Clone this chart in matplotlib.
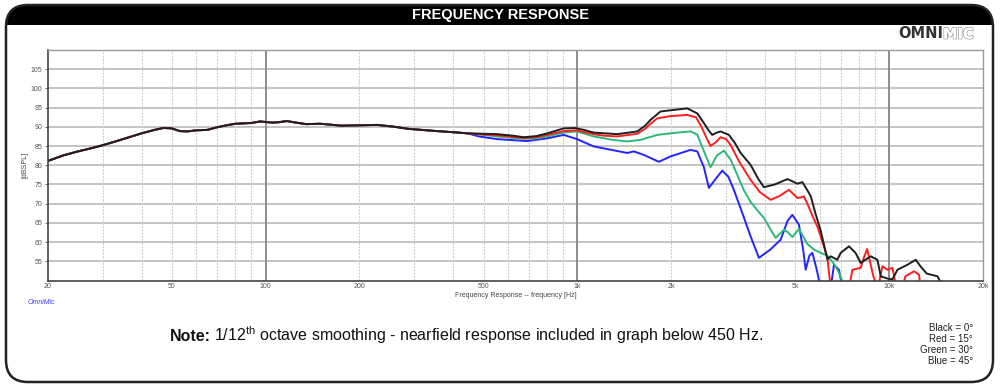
import matplotlib
matplotlib.use("Agg")
import matplotlib.pyplot as plt
import matplotlib.patheffects as pe
from matplotlib.patches import FancyBboxPatch, Rectangle
from matplotlib.ticker import FixedLocator, NullFormatter

# shared part (nearfield merged below 450 Hz) - all four angles overlap here
base_freq = [20, 22.5, 25, 27.5, 30, 33, 36.5, 40, 44, 47, 50, 53, 56, 60, 65, 70,
             75, 80, 90, 96, 105, 110, 117, 125, 135, 150, 175, 200, 228, 260, 285,
             340, 400]
base_db = [81.1, 82.6, 83.6, 84.4, 85.2, 86.2, 87.3, 88.3, 89.2, 89.7, 89.6, 88.9,
           88.8, 89.1, 89.2, 89.9, 90.4, 90.8, 91.0, 91.4, 91.1, 91.2, 91.5, 91.1,
           90.7, 90.8, 90.3, 90.4, 90.5, 90.0, 89.5, 89.0, 88.6]

# 0 deg
black_freq = [445, 500, 553, 620, 673, 740, 800, 904, 980, 1050, 1128, 1342, 1555,
              1650, 1716, 1848, 2038, 2252, 2424, 2545, 2640, 2707, 2800, 2880, 3062,
              3200, 3338, 3594, 3800, 3966, 4300, 4716, 4900, 5076, 5267, 5400, 5602,
              5800, 6031, 6191, 6337, 6494, 6820, 6991, 7434, 7800, 8104, 8726, 9170,
              9400, 9874, 10246, 10632, 11447, 12173, 12600, 13200, 14289, 14642]
black_db = [88.3, 88.2, 88.1, 87.7, 87.3, 87.6, 88.3, 89.6, 89.7, 89.2, 88.5, 88.1,
            88.8, 90.3, 91.8, 94.0, 94.4, 94.8, 93.5, 91.0, 89.0, 87.9, 88.5, 88.8,
            87.9, 85.8, 83.2, 80.1, 76.5, 74.3, 75.0, 76.4, 75.8, 75.2, 75.6, 74.2,
            72.0, 67.5, 63.0, 59.0, 55.5, 56.3, 55.4, 57.2, 58.9, 57.2, 54.6, 56.3,
            55.4, 51.1, 50.5, 50.3, 52.8, 54.1, 55.4, 53.7, 51.8, 51.1, 49.5]

# 15 deg
red_freq = [445, 500, 553, 620, 673, 740, 800, 904, 990, 1128, 1215, 1342, 1555, 1650,
            1716, 1803, 1990, 2252, 2400, 2500, 2600, 2674, 2780, 2880, 3000, 3100,
            3300, 3594, 3850, 4168, 4450, 4771, 5076, 5200, 5330, 5500, 5700, 5886,
            6031, 6200, 6337, 6494, 7434, 7623, 8104, 8300, 8500, 8726, 8900, 9200,
            9516, 9874, 10246, 10550, 11000, 11280, 12020, 12474, 12600]
red_db = [88.3, 88.0, 87.8, 87.4, 87.1, 87.3, 87.9, 88.9, 89.1, 88.1, 87.7, 87.5,
          88.2, 89.5, 90.8, 92.2, 92.8, 93.1, 92.5, 90.0, 87.0, 85.0, 86.0, 87.3,
          86.8, 85.3, 81.0, 76.2, 73.0, 71.0, 72.0, 73.6, 71.5, 71.6, 71.9, 69.5,
          66.5, 64.0, 61.5, 58.5, 55.9, 48.0, 48.0, 52.8, 53.3, 56.0, 58.2, 54.1,
          51.1, 48.0, 53.7, 52.8, 53.3, 48.0, 48.0, 51.1, 52.4, 51.5, 48.0]

# 30 deg
green_freq = [445, 500, 553, 620, 673, 740, 800, 904, 998, 1128, 1300, 1445, 1594,
              1803, 2090, 2307, 2424, 2484, 2580, 2674, 2800, 2951, 3100, 3258, 3420,
              3594, 3800, 3966, 4150, 4324, 4598, 4750, 4892, 5136, 5300, 5467, 5750,
              6031, 6337, 6700, 6991, 7164]
green_db = [88.3, 87.9, 87.5, 87.1, 86.9, 87.0, 87.5, 88.5, 88.8, 87.5, 86.6, 86.2,
            86.6, 87.9, 88.5, 88.8, 88.0, 85.8, 82.5, 79.5, 82.5, 83.8, 81.5, 77.5,
            73.5, 70.5, 68.0, 66.3, 63.5, 61.1, 63.2, 62.5, 61.3, 63.4, 61.5, 59.5,
            58.0, 57.2, 56.5, 54.0, 51.1, 48.0]

# 45 deg
blue_freq = [445, 483, 553, 690, 800, 904, 998, 1128, 1445, 1517, 1633, 1825, 1990,
             2307, 2424, 2545, 2641, 2780, 2916, 3050, 3177, 3400, 3594, 3822, 4150,
             4487, 4720, 4892, 5136, 5300, 5398, 5550, 5672, 5850, 6031, 6494, 6653,
             6900, 7080]
blue_db = [88.3, 87.5, 86.8, 86.3, 87.0, 87.9, 86.8, 84.9, 83.2, 83.6, 82.7, 80.9,
           82.3, 84.0, 83.6, 79.5, 74.1, 76.5, 78.6, 77.0, 73.6, 67.0, 61.5, 55.9,
           58.0, 60.6, 65.5, 67.1, 64.5, 58.0, 52.8, 56.5, 57.2, 53.0, 48.0, 48.0,
           54.1, 52.8, 48.0]

x_ticks = [20, 50, 100, 200, 500, 1000, 2000, 5000, 10000, 20000]
x_labels = ["20", "50", "100", "200", "500", "1k", "2k", "5k", "10k", "20k"]
y_ticks = [55, 60, 65, 70, 75, 80, 85, 90, 95, 100, 105]
legend_lines = ["Black = 0°", "Red = 15°", "Green = 30°", "Blue = 45°"]

plt.rcParams['font.family'] = ['Liberation Sans', 'DejaVu Sans']
plt.rcParams['mathtext.fontset'] = 'custom'
plt.rcParams['mathtext.rm'] = 'Liberation Sans'

W, H = 1000, 386
fig = plt.figure(figsize=(W / 100, H / 100), dpi=100)

# background layer in pixel units for the frame / header
bg = fig.add_axes([0, 0, 1, 1], zorder=0)
bg.set_xlim(0, W)
bg.set_ylim(H, 0)
bg.axis("off")

bg.add_patch(FancyBboxPatch((6, 5), 987, 45, boxstyle="round,pad=0,rounding_size=22",
                            facecolor="black", edgecolor="none"))
bg.add_patch(Rectangle((7, 25), 985, 40, facecolor="white", edgecolor="none"))
bg.add_patch(FancyBboxPatch((6, 5), 987, 377, boxstyle="round,pad=0,rounding_size=22",
                            facecolor="none", edgecolor="#222222", linewidth=1.8))
bg.text(500, 15.5, "FREQUENCY RESPONSE", color="white", fontsize=10.5,
        fontweight="bold", ha="center", va="center")

# OMNIMIC logo
bg.text(943, 34, "OMNI", color="#333333", fontsize=10.5, fontweight="heavy",
        family="DejaVu Sans", ha="right", va="center")
bg.text(943, 34, "MIC", color="white", fontsize=10.5, fontweight="heavy",
        family="DejaVu Sans", ha="left", va="center",
        path_effects=[pe.withStroke(linewidth=1.2, foreground="#9a9a9a"), pe.Normal()])

bg.text(28, 303, "OmniMic", color="#3a3aff", fontsize=5, style="italic",
        ha="left", va="center")

# note line: bold "Note:" then the rest placed right after it
note_a = bg.text(170, 341, "Note:", fontsize=11.5, fontweight="bold",
                 color="#111111", ha="left", va="baseline")
fig.canvas.draw()
ext = note_a.get_window_extent()
x_after = bg.transData.inverted().transform((ext.x1, 0))[0]
bg.text(x_after + 3, 341, r"1/12$^{\rm th}$ octave smoothing - nearfield response "
        "included in graph below 450 Hz.", fontsize=11.5, color="#111111",
        ha="left", va="baseline")

for i, s in enumerate(legend_lines):
    bg.text(973, 328 + i * 11, s, fontsize=7, color="#222222", ha="right", va="center")

# main plot
ax = fig.add_axes([47.7 / W, 1 - 280.5 / H, (983 - 47.7) / W, (280.5 - 50) / H],
                  zorder=1)
ax.set_xscale("log")
ax.set_xlim(20, 20000)
ax.set_ylim(50, 110)

minor = [f * d for d in (10, 100, 1000, 10000) for f in range(2, 10)
         if 20 < f * d < 20000]
ax.xaxis.set_minor_locator(FixedLocator(minor))
ax.xaxis.set_minor_formatter(NullFormatter())
ax.set_xticks(x_ticks)
ax.set_xticklabels(x_labels)
ax.set_yticks(y_ticks)
ax.tick_params(axis="both", which="major", labelsize=5, colors="#555555", length=2,
               width=0.6, pad=2)
ax.tick_params(axis="x", which="both", length=0)

for y in y_ticks:
    ax.axhline(y, color="#c4c4c4", linewidth=1.4, zorder=0)
for m in minor:
    ax.axvline(m, color="#cfcfcf", linewidth=0.8, linestyle=(0, (2, 1)), zorder=0)
for d in (100, 1000, 10000):
    ax.axvline(d, color="#8c8c8c", linewidth=1.4, zorder=0)

for side in ("top", "right"):
    ax.spines[side].set_color("#999999")
    ax.spines[side].set_linewidth(1.0)
for side in ("left", "bottom"):
    ax.spines[side].set_color("#444444")
    ax.spines[side].set_linewidth(1.2)

ax.plot(base_freq + blue_freq, base_db + blue_db, color="#2424ff", linewidth=1.4)
ax.plot(base_freq + green_freq, base_db + green_db, color="#2cb87c", linewidth=1.4)
ax.plot(base_freq + red_freq, base_db + red_db, color="#ff1c1c", linewidth=1.4)
ax.plot(base_freq + black_freq, base_db + black_db, color="#1e1e1e", linewidth=1.4)

ax.set_ylabel("[dBSPL]", fontsize=5, color="#444444")
ax.yaxis.set_label_coords(-(47.7 - 28) / (983 - 47.7), 0.5)
ax.set_xlabel("Frequency Response -- frequency [Hz]", fontsize=5, color="#444444",
              labelpad=1)

fig.savefig("out.png", dpi=100)
